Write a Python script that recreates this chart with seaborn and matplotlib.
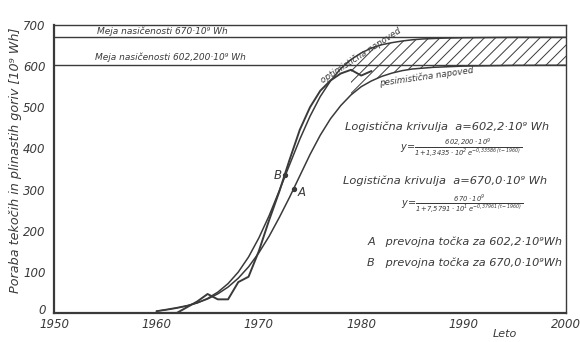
import matplotlib
matplotlib.use("Agg")
import matplotlib.pyplot as plt
import matplotlib.transforms as mtransforms
import numpy as np
import pandas as pd
import seaborn as sns

# ---------------- data ----------------
years_actual = [1960, 1961, 1962, 1963, 1964, 1965, 1966, 1967, 1968, 1969, 1970,
                1971, 1972, 1973, 1974, 1975, 1976, 1977, 1978, 1979, 1980, 1981]
consumption = [0, 0, 0, 14, 28, 46, 33, 33, 75, 88, 150,
               225, 295, 372, 445, 500, 540, 565, 582, 591, 577, 588]

years_model = [1960, 1961, 1962, 1963, 1964, 1965, 1966, 1967, 1968,
               1969, 1970, 1971, 1972, 1973, 1974, 1975, 1976, 1977, 1978, 1979,
               1980, 1981, 1982, 1983, 1984, 1985, 1986, 1987, 1988, 1989, 1990,
               1995, 2000]
logistic_670 = [4.0, 7.5, 11.7, 17.0, 24.5, 35.3, 50.5, 71.3, 99.4,
                136, 182, 236, 297, 360, 422, 478, 526, 564, 594, 616,
                632, 644, 652, 657, 661, 664, 666, 667, 668, 668.5, 669,
                670, 670]
logistic_602 = [4.5, 8.5, 12.8, 17.8, 24.6, 33.9, 46.4, 62.9, 84.5,
                112, 146, 186, 232, 281, 333, 385, 432, 472, 504, 530,
                550, 564, 575, 583, 589, 593, 595, 597, 598, 599, 600,
                601.8, 602.1]

saturation_levels = [670.0, 602.2]
saturation_labels = ["Meja nasičenosti 670·10⁹ Wh", "Meja nasičenosti 602,200·10⁹ Wh"]

inflection_years = [1973.4, 1972.6]
inflection_values = [301.1, 335.0]
inflection_labels = ["A", "B"]

forecast_start = 1979

x_ticks = [1950, 1960, 1970, 1980, 1990, 2000]
y_ticks = [0, 100, 200, 300, 400, 500, 600, 700]

# ---------------- styling ----------------
sns.set_theme(style="white")
plt.rcParams["font.family"] = ["DejaVu Sans"]
plt.rcParams["font.style"] = "italic"
plt.rcParams["mathtext.fontset"] = "dejavusans"
plt.rcParams["mathtext.default"] = "it"
plt.rcParams["hatch.linewidth"] = 0.7
ink = "#3a3a3a"

fig = plt.figure(figsize=(5.8, 3.42), dpi=100)
ax = fig.add_axes([0.093, 0.085, 0.883, 0.842])

df_act = pd.DataFrame({"Leto": years_actual, "val": consumption})
df_mod = pd.DataFrame({"Leto": years_model, "opt": logistic_670, "pes": logistic_602})

sns.lineplot(data=df_mod, x="Leto", y="opt", ax=ax, color=ink, lw=1.1)
sns.lineplot(data=df_mod, x="Leto", y="pes", ax=ax, color=ink, lw=1.1)
sns.lineplot(data=df_act, x="Leto", y="val", ax=ax, color=ink, lw=1.4)

mask = df_mod["Leto"] >= forecast_start
ax.fill_between(df_mod["Leto"][mask], df_mod["pes"][mask], df_mod["opt"][mask],
                facecolor="none", edgecolor=ink, hatch="///", linewidth=0)

for lvl in saturation_levels:
    ax.axhline(lvl, color=ink, lw=1.0)

ax.text(1954.2, 684, saturation_labels[0], fontsize=6.5, va="center", ha="left", color=ink)
ax.text(1954.0, 622, saturation_labels[1], fontsize=6.5, va="center", ha="left", color=ink)

# inflection points
ax.scatter(inflection_years, inflection_values, s=8, color=ink, zorder=5)
ax.text(inflection_years[1] - 0.4, inflection_values[1], inflection_labels[1],
        fontsize=8.5, ha="right", va="center", color=ink)
ax.text(inflection_years[0] + 0.4, inflection_values[0] - 8, inflection_labels[0],
        fontsize=8.5, ha="left", va="center", color=ink)

# curve labels
ax.text(1980.0, 626, "optimistična napoved", fontsize=6.3, rotation=33,
        ha="center", va="center", color=ink, rotation_mode="anchor")
ax.text(1986.4, 574, "pesimistična napoved", fontsize=6.3, rotation=8,
        ha="center", va="center", color=ink, rotation_mode="anchor")

# right side legend texts
ax.text(1978.4, 453, "Logistična krivulja  a=602,2·10⁹ Wh", fontsize=8.2, ha="left",
        va="center", color=ink)
ax.text(1983.8, 403,
        r"$y\!=\!\frac{602{,}200\cdot10^9}{1\!+\!1{,}3435\cdot10^2\,e^{-0{,}33586\,(t-1960)}}$",
        fontsize=7, ha="left", va="center", color=ink)
ax.text(1978.2, 322, "Logistična krivulja  a=670,0·10⁹ Wh", fontsize=8.2, ha="left",
        va="center", color=ink)
ax.text(1983.9, 262,
        r"$y\!=\!\frac{670\cdot10^9}{1\!+\!7{,}5791\cdot10^1\,e^{-0{,}37961\,(t-1960)}}$",
        fontsize=7, ha="left", va="center", color=ink)
ax.text(1980.6, 172, "A   prevojna točka za 602,2·10⁹Wh", fontsize=8.1, ha="left",
        va="center", color=ink)
ax.text(1980.6, 121, "B   prevojna točka za 670,0·10⁹Wh", fontsize=8.1, ha="left",
        va="center", color=ink)

# axes
ax.set_xlim(1950, 2000)
ax.set_ylim(0, 700)
ax.set_xticks(x_ticks)
ax.set_yticks(y_ticks)
ax.set_xticklabels([str(v) for v in x_ticks], fontsize=8.5, color=ink)
ax.set_yticklabels([str(v) for v in y_ticks], fontsize=8.5, color=ink)
ax.tick_params(axis="both", direction="in", length=4, width=1, colors=ink, pad=3)
ax.tick_params(axis="x", pad=4)
ax.tick_params(axis="y", direction="out", length=3)
lab0 = ax.get_yticklabels()[0]
lab0.set_transform(lab0.get_transform() +
                   mtransforms.ScaledTranslation(0, 3 / 72, fig.dpi_scale_trans))
ax.set_xlabel("")
ax.set_ylabel("")
for side in ["left", "bottom"]:
    ax.spines[side].set_linewidth(1.6)
    ax.spines[side].set_color(ink)
for side in ["top", "right"]:
    ax.spines[side].set_linewidth(1.0)
    ax.spines[side].set_color(ink)
ax.set_facecolor("white")

fig.text(0.027, 0.53, "Poraba tekočih in plinastih goriv [10⁹ Wh]", rotation=90,
         fontsize=9.2, ha="center", va="center", color=ink)
fig.text(505 / 580, 0.008, "Leto", fontsize=8, ha="center", va="bottom", color=ink)

fig.savefig("out.png", dpi=100, facecolor="white")
